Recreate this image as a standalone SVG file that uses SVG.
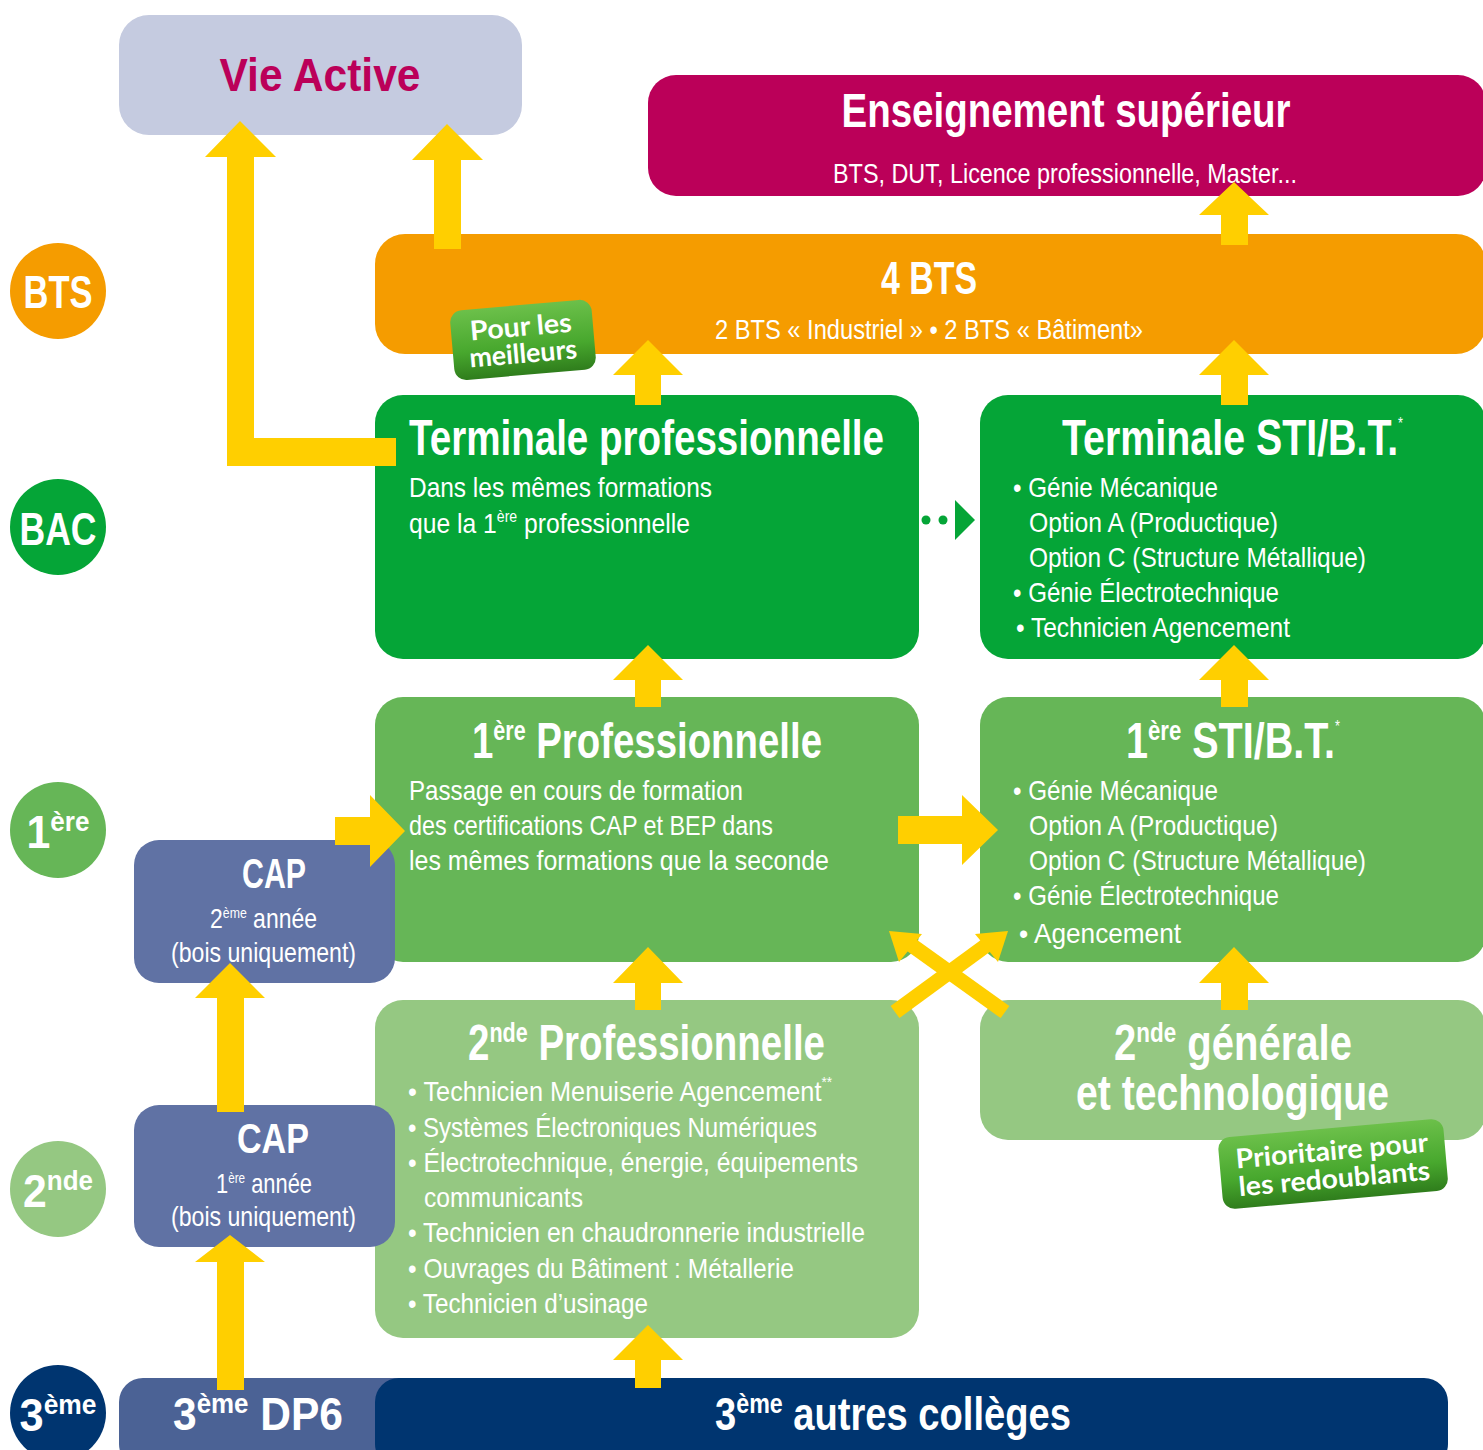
<svg xmlns="http://www.w3.org/2000/svg" width="1483" height="1450" viewBox="0 0 1483 1450">
<defs>
<style>
text{font-family:"Liberation Sans",Arial,sans-serif;fill:#fff}
.t{font-weight:bold}
.b{font-size:28px}
.c{text-anchor:middle}
.badge{font-family:"Lato","Open Sans",sans-serif;font-weight:bold;font-size:27px;fill:#fff}
.y{fill:#ffcf00}
</style>
<linearGradient id="gb" x1="0" y1="0" x2="0" y2="1">
<stop offset="0" stop-color="#6cc04a"/>
<stop offset="0.6" stop-color="#48a82e"/>
<stop offset="1" stop-color="#2f7d1c"/>
</linearGradient>
</defs>

<!-- level circles -->
<g id="lvl-bts"><circle cx="58" cy="291" r="48" fill="#f59c00"/><text class="t c" x="58" y="308" font-size="46" textLength="69" lengthAdjust="spacingAndGlyphs">BTS</text></g>
<g id="lvl-bac"><circle cx="58" cy="527" r="48" fill="#05a537"/><text class="t c" x="58" y="545" font-size="46" textLength="77" lengthAdjust="spacingAndGlyphs">BAC</text></g>
<g id="lvl-1ere"><circle cx="58" cy="830" r="48" fill="#66b657"/><text class="t c" x="58" y="848" font-size="46" textLength="63" lengthAdjust="spacingAndGlyphs">1<tspan font-size="28" dy="-17">ère</tspan></text></g>
<g id="lvl-2nde"><circle cx="58" cy="1189" r="48" fill="#95c882"/><text class="t c" x="58" y="1207" font-size="46" textLength="70" lengthAdjust="spacingAndGlyphs">2<tspan font-size="28" dy="-17">nde</tspan></text></g>
<g id="lvl-3eme"><circle cx="58" cy="1413" r="48" fill="#003570"/><text class="t c" x="58" y="1431" font-size="46" textLength="77" lengthAdjust="spacingAndGlyphs">3<tspan font-size="28" dy="-17">ème</tspan></text></g>

<!-- nodes -->
<g id="vie-active"><rect x="119" y="15" width="403" height="120" rx="30" fill="#c5cbe0"/><text class="t c" x="320" y="91" font-size="47" textLength="201" lengthAdjust="spacingAndGlyphs" style="fill:#bb0059">Vie Active</text></g>

<g id="ens-sup"><rect x="648" y="75" width="838" height="121" rx="28" fill="#bb0059"/>
<text class="t c" x="1066" y="127" font-size="48" textLength="449" lengthAdjust="spacingAndGlyphs">Enseignement supérieur</text>
<text class="c" x="1065" y="183" font-size="27" textLength="464" lengthAdjust="spacingAndGlyphs">BTS, DUT, Licence professionnelle, Master...</text></g>

<g id="bts"><rect x="375" y="234" width="1111" height="120" rx="30" fill="#f59c00"/>
<text class="t c" x="929" y="294" font-size="46" textLength="96" lengthAdjust="spacingAndGlyphs">4 BTS</text>
<text class="c" x="929" y="339" font-size="27" textLength="428" lengthAdjust="spacingAndGlyphs">2 BTS « Industriel » • 2 BTS « Bâtiment»</text></g>

<g id="term-pro"><rect x="375" y="395" width="544" height="264" rx="28" fill="#05a537"/>
<text class="t" x="409" y="455" font-size="50" textLength="475" lengthAdjust="spacingAndGlyphs">Terminale professionnelle</text>
<text class="b" x="409" y="497" textLength="303" lengthAdjust="spacingAndGlyphs">Dans les mêmes formations</text>
<text class="b" x="409" y="533" textLength="281" lengthAdjust="spacingAndGlyphs">que la 1<tspan font-size="16" dy="-11">ère</tspan><tspan dy="11"> professionnelle</tspan></text></g>

<g id="term-sti"><rect x="980" y="395" width="506" height="264" rx="28" fill="#05a537"/>
<text class="t" x="1062" y="455" font-size="50" textLength="341" lengthAdjust="spacingAndGlyphs">Terminale STI/B.T.<tspan font-size="16" font-weight="normal" dy="-26">*</tspan></text>
<text class="b" x="1013" y="497" textLength="205" lengthAdjust="spacingAndGlyphs">• Génie Mécanique</text>
<text class="b" x="1029" y="532" textLength="249" lengthAdjust="spacingAndGlyphs">Option A (Productique)</text>
<text class="b" x="1029" y="567" textLength="337" lengthAdjust="spacingAndGlyphs">Option C (Structure Métallique)</text>
<text class="b" x="1013" y="602" textLength="266" lengthAdjust="spacingAndGlyphs">• Génie Électrotechnique</text>
<text class="b" x="1016" y="637" textLength="274" lengthAdjust="spacingAndGlyphs">• Technicien Agencement</text></g>

<g id="prem-pro"><rect x="375" y="697" width="544" height="265" rx="28" fill="#66b657"/>
<text class="t" x="472" y="758" font-size="50" textLength="350" lengthAdjust="spacingAndGlyphs">1<tspan font-size="28" dy="-18">ère</tspan><tspan dy="18"> Professionnelle</tspan></text>
<text class="b" x="409" y="800" textLength="334" lengthAdjust="spacingAndGlyphs">Passage en cours de formation</text>
<text class="b" x="409" y="835" textLength="364" lengthAdjust="spacingAndGlyphs">des certifications CAP et BEP dans</text>
<text class="b" x="409" y="870" textLength="420" lengthAdjust="spacingAndGlyphs">les mêmes formations  que la seconde</text></g>

<g id="prem-sti"><rect x="980" y="697" width="506" height="265" rx="28" fill="#66b657"/>
<text class="t" x="1126" y="758" font-size="50" textLength="214" lengthAdjust="spacingAndGlyphs">1<tspan font-size="28" dy="-18">ère</tspan><tspan dy="18"> STI/B.T.</tspan><tspan font-size="16" font-weight="normal" dy="-26">*</tspan></text>
<text class="b" x="1013" y="800" textLength="205" lengthAdjust="spacingAndGlyphs">• Génie Mécanique</text>
<text class="b" x="1029" y="835" textLength="249" lengthAdjust="spacingAndGlyphs">Option A (Productique)</text>
<text class="b" x="1029" y="870" textLength="337" lengthAdjust="spacingAndGlyphs">Option C (Structure Métallique)</text>
<text class="b" x="1013" y="905" textLength="266" lengthAdjust="spacingAndGlyphs">• Génie Électrotechnique</text>
<text class="b" x="1019" y="943" textLength="162" lengthAdjust="spacingAndGlyphs">• Agencement</text></g>

<g id="seconde-pro"><rect x="375" y="1000" width="544" height="338" rx="28" fill="#95c882"/>
<text class="t" x="468" y="1060" font-size="50" textLength="357" lengthAdjust="spacingAndGlyphs">2<tspan font-size="28" dy="-18">nde</tspan><tspan dy="18"> Professionnelle</tspan></text>
<text class="b" x="408" y="1101" textLength="424" lengthAdjust="spacingAndGlyphs">• Technicien Menuiserie Agencement<tspan font-size="15" dy="-14">**</tspan></text>
<text class="b" x="408" y="1137" textLength="409" lengthAdjust="spacingAndGlyphs">• Systèmes Électroniques Numériques</text>
<text class="b" x="408" y="1172" textLength="450" lengthAdjust="spacingAndGlyphs">• Électrotechnique, énergie, équipements</text>
<text class="b" x="424" y="1207" textLength="159" lengthAdjust="spacingAndGlyphs">communicants</text>
<text class="b" x="408" y="1242" textLength="457" lengthAdjust="spacingAndGlyphs">• Technicien en chaudronnerie industrielle</text>
<text class="b" x="408" y="1278" textLength="386" lengthAdjust="spacingAndGlyphs">• Ouvrages du Bâtiment : Métallerie</text>
<text class="b" x="408" y="1313" textLength="240" lengthAdjust="spacingAndGlyphs">• Technicien d’usinage</text></g>

<g id="seconde-gen"><rect x="980" y="1000" width="506" height="140" rx="28" fill="#95c882"/>
<text class="t" x="1114" y="1060" font-size="50" textLength="238" lengthAdjust="spacingAndGlyphs">2<tspan font-size="28" dy="-18">nde</tspan><tspan dy="18"> générale</tspan></text>
<text class="t" x="1076" y="1110" font-size="50" textLength="313" lengthAdjust="spacingAndGlyphs">et technologique</text></g>

<g id="cap2"><rect x="134" y="840" width="261" height="143" rx="25" fill="#6072a4"/>
<text class="t" x="242" y="888" font-size="42" textLength="64" lengthAdjust="spacingAndGlyphs">CAP</text>
<text class="b" x="210" y="928" textLength="107" lengthAdjust="spacingAndGlyphs">2<tspan font-size="15" dy="-10">ème</tspan><tspan dy="10"> année</tspan></text>
<text class="b" x="171" y="962" textLength="185" lengthAdjust="spacingAndGlyphs">(bois uniquement)</text></g>

<g id="cap1"><rect x="134" y="1105" width="261" height="142" rx="25" fill="#6072a4"/>
<text class="t" x="237" y="1153" font-size="42" textLength="72" lengthAdjust="spacingAndGlyphs">CAP</text>
<text class="b" x="216" y="1193" textLength="96" lengthAdjust="spacingAndGlyphs">1<tspan font-size="15" dy="-10">ère</tspan><tspan dy="10"> année</tspan></text>
<text class="b" x="171" y="1226" textLength="185" lengthAdjust="spacingAndGlyphs">(bois uniquement)</text></g>

<g id="dp6"><rect x="119" y="1378" width="320" height="90" rx="24" fill="#4b6295"/>
<text class="t" x="173" y="1430" font-size="46" textLength="170" lengthAdjust="spacingAndGlyphs">3<tspan font-size="28" dy="-17">ème</tspan><tspan dy="17"> DP6</tspan></text></g>

<g id="autres"><rect x="375" y="1378" width="1073" height="90" rx="24" fill="#003570"/>
<text class="t" x="715" y="1430" font-size="46" textLength="356" lengthAdjust="spacingAndGlyphs">3<tspan font-size="28" dy="-17">ème</tspan><tspan dy="17"> autres collèges</tspan></text></g>

<!-- connectors -->
<g id="connectors">
<polygon class="y" points="396,438 396,466 227,466 227,157 205,157 240,121 276,157 254,157 254,438"/>
<polygon class="y" points="434,249 434,160 412,160 447,124 483,160 461,160 461,249"/>
<polygon class="y" points="1221,245 1221,215 1199,215 1234,182 1269,215 1248,215 1248,245"/>
<polygon class="y" points="635,405 635,375 613,375 648,340 683,375 661,375 661,405"/>
<polygon class="y" points="1221,405 1221,375 1199,375 1234,340 1269,375 1248,375 1248,405"/>
<polygon class="y" points="635,707 635,680 613,680 648,645 683,680 661,680 661,707"/>
<polygon class="y" points="1221,707 1221,680 1199,680 1234,645 1269,680 1248,680 1248,707"/>
<polygon class="y" points="635,1010 635,983 613,983 648,947 683,983 661,983 661,1010"/>
<polygon class="y" points="1221,1010 1221,983 1199,983 1234,947 1269,983 1248,983 1248,1010"/>
<polygon class="y" points="635,1388 635,1360 613,1360 648,1325 683,1360 661,1360 661,1388"/>
<polygon class="y" points="217,1112 217,998 195,998 230,963 265,998 244,998 244,1112"/>
<polygon class="y" points="217,1390 217,1262 195,1262 230,1235 265,1262 244,1262 244,1390"/>
<polygon class="y" points="335,817 370,817 370,795 405,831 370,867 370,845 335,845"/>
<polygon class="y" points="898,816 962,816 962,795 998,830 962,865 962,844 898,844"/>
<g fill="#05a537"><circle cx="926" cy="520" r="4.5"/><circle cx="943" cy="520" r="4.5"/><polygon points="955,500 975,520 955,540"/></g>
<g stroke="#ffcf00" stroke-width="15" fill="none"><line x1="895" y1="1012" x2="988" y2="944"/><line x1="1005" y1="1012" x2="910" y2="944"/></g>
<polygon class="y" points="1008,931 998,962 975,934"/>
<polygon class="y" points="889,931 922,934 899,962"/>
</g>

<!-- badges -->
<g id="badge-meilleurs" transform="rotate(-5 522 340)">
<rect x="452" y="305" width="142" height="70" rx="12" fill="url(#gb)"/>
<text class="badge c" x="522" y="336" textLength="102" lengthAdjust="spacingAndGlyphs">Pour les</text>
<text class="badge c" x="522" y="363" textLength="108" lengthAdjust="spacingAndGlyphs">meilleurs</text></g>
<g id="badge-redoublants" transform="rotate(-5 1333 1163)">
<rect x="1220" y="1128" width="226" height="72" rx="12" fill="url(#gb)"/>
<text class="badge c" x="1333" y="1160" textLength="193" lengthAdjust="spacingAndGlyphs">Prioritaire pour</text>
<text class="badge c" x="1333" y="1188" textLength="192" lengthAdjust="spacingAndGlyphs">les redoublants</text></g>
</svg>
